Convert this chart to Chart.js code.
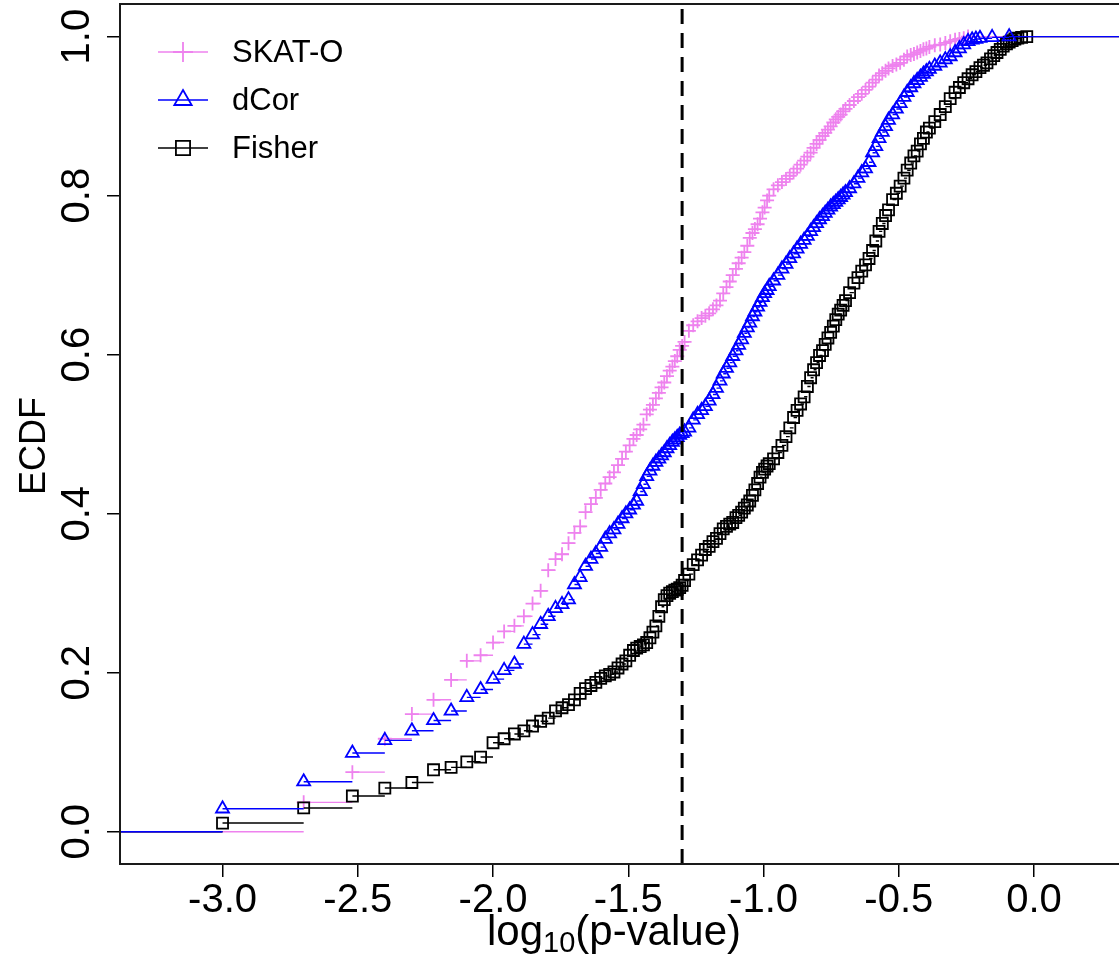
<!DOCTYPE html>
<html>
<head>
<meta charset="utf-8">
<script src="https://cdn.jsdelivr.net/npm/chart.js@4.4.0/dist/chart.umd.min.js"></script>
<style>
  html, body { margin: 0; padding: 0; background: #fff; }
  #wrap { width: 1119px; height: 962px; }
</style>
</head>
<body>
<div id="wrap"><canvas id="graficoEcdf" width="1119" height="962"></canvas></div>
<script>
// ECDF of log10(p-value) for three tests
const skatX = [-2.70, -2.52, -2.40, -2.30, -2.22, -2.155, -2.097, -2.046, -2.00, -1.959, -1.921, -1.886, -1.854, -1.824, -1.796,
  -1.769, -1.745, -1.721, -1.699, -1.678, -1.658, -1.638, -1.62, -1.602, -1.585, -1.569, -1.553, -1.538, -1.523, -1.509,
  -1.495, -1.481, -1.469, -1.456, -1.444, -1.432, -1.42, -1.409, -1.398, -1.387, -1.377, -1.367, -1.357, -1.347, -1.337,
  -1.328, -1.319, -1.31, -1.301, -1.292, -1.276, -1.26, -1.244, -1.229, -1.215, -1.201, -1.187, -1.174, -1.161, -1.149,
  -1.137, -1.125, -1.114, -1.102, -1.092, -1.081, -1.071, -1.06, -1.051, -1.041, -1.032, -1.022, -1.013, -1.004, -0.996,
  -0.987, -0.979, -0.963, -0.947, -0.932, -0.917, -0.903, -0.889, -0.876, -0.863, -0.85, -0.838, -0.826, -0.815, -0.804,
  -0.793, -0.782, -0.772, -0.762, -0.752, -0.742, -0.733, -0.724, -0.715, -0.706, -0.697, -0.682, -0.666, -0.651, -0.637,
  -0.623, -0.61, -0.597, -0.585, -0.573, -0.561, -0.549, -0.538, -0.523, -0.509, -0.495, -0.481, -0.469, -0.456, -0.444,
  -0.432, -0.42, -0.409, -0.398, -0.387, -0.367, -0.347, -0.328, -0.31, -0.292, -0.276, -0.26, -0.244];
const skatY = [0.037, 0.075, 0.117, 0.148, 0.166, 0.191, 0.215, 0.222, 0.238, 0.252, 0.259, 0.271, 0.287, 0.303, 0.329,
  0.343, 0.349, 0.363, 0.376, 0.384, 0.402, 0.412, 0.42, 0.43, 0.438, 0.446, 0.452, 0.461, 0.469, 0.478,
  0.486, 0.494, 0.499, 0.506, 0.512, 0.525, 0.531, 0.537, 0.545, 0.552, 0.559, 0.565, 0.573, 0.58, 0.585,
  0.592, 0.598, 0.606, 0.611, 0.616, 0.63, 0.637, 0.642, 0.646, 0.649, 0.652, 0.657, 0.662, 0.668, 0.677,
  0.685, 0.692, 0.7, 0.708, 0.715, 0.722, 0.729, 0.737, 0.747, 0.753, 0.758, 0.764, 0.771, 0.779, 0.785,
  0.794, 0.8, 0.808, 0.813, 0.817, 0.821, 0.825, 0.829, 0.834, 0.839, 0.844, 0.849, 0.854, 0.86, 0.865,
  0.87, 0.875, 0.879, 0.883, 0.887, 0.892, 0.896, 0.899, 0.902, 0.906, 0.909, 0.914, 0.919, 0.924, 0.928,
  0.933, 0.937, 0.942, 0.946, 0.951, 0.954, 0.957, 0.96, 0.963, 0.965, 0.967, 0.971, 0.975, 0.977, 0.978,
  0.98, 0.982, 0.984, 0.985, 0.987, 0.989, 0.99, 0.992, 0.994, 0.996, 0.997, 0.998, 1.0];

const dcorX = [-3.0, -2.70, -2.52, -2.40, -2.30, -2.22, -2.155, -2.097, -2.046, -2.00, -1.959, -1.921, -1.886, -1.854, -1.824,
  -1.796, -1.769, -1.745, -1.721, -1.699, -1.678, -1.658, -1.638, -1.62, -1.602, -1.585, -1.569, -1.553, -1.538, -1.523,
  -1.509, -1.495, -1.481, -1.469, -1.456, -1.444, -1.432, -1.42, -1.409, -1.398, -1.387, -1.377, -1.367, -1.357, -1.347,
  -1.337, -1.328, -1.319, -1.31, -1.301, -1.292, -1.276, -1.26, -1.244, -1.229, -1.215, -1.201, -1.187, -1.174, -1.161,
  -1.149, -1.137, -1.125, -1.114, -1.102, -1.092, -1.081, -1.071, -1.06, -1.051, -1.041, -1.032, -1.022, -1.013, -1.004,
  -0.996, -0.987, -0.979, -0.963, -0.947, -0.932, -0.917, -0.903, -0.889, -0.876, -0.863, -0.85, -0.838, -0.826, -0.815,
  -0.804, -0.793, -0.782, -0.772, -0.762, -0.752, -0.742, -0.733, -0.724, -0.715, -0.706, -0.697, -0.682, -0.666, -0.651,
  -0.637, -0.623, -0.61, -0.597, -0.585, -0.573, -0.561, -0.549, -0.538, -0.523, -0.509, -0.495, -0.481, -0.469, -0.456,
  -0.444, -0.432, -0.42, -0.409, -0.398, -0.387, -0.367, -0.347, -0.328, -0.31, -0.292, -0.276, -0.26, -0.244, -0.229,
  -0.215, -0.2, -0.155, -0.092];
const dcorY = [0.029, 0.063, 0.099, 0.115, 0.127, 0.14, 0.152, 0.169, 0.179, 0.192, 0.203, 0.211, 0.236, 0.248, 0.261,
  0.271, 0.281, 0.286, 0.292, 0.311, 0.32, 0.334, 0.343, 0.35, 0.358, 0.368, 0.375, 0.38, 0.387, 0.394,
  0.4, 0.405, 0.411, 0.416, 0.428, 0.437, 0.447, 0.454, 0.46, 0.465, 0.469, 0.473, 0.477, 0.482, 0.486,
  0.49, 0.493, 0.496, 0.499, 0.501, 0.503, 0.508, 0.518, 0.525, 0.53, 0.535, 0.542, 0.55, 0.558, 0.567,
  0.576, 0.583, 0.59, 0.598, 0.605, 0.612, 0.619, 0.627, 0.634, 0.64, 0.648, 0.654, 0.66, 0.666, 0.672,
  0.677, 0.681, 0.686, 0.693, 0.7, 0.708, 0.714, 0.721, 0.727, 0.733, 0.739, 0.744, 0.749, 0.755, 0.76,
  0.765, 0.77, 0.774, 0.778, 0.782, 0.786, 0.789, 0.792, 0.795, 0.798, 0.801, 0.804, 0.809, 0.815, 0.822,
  0.829, 0.834, 0.842, 0.854, 0.862, 0.872, 0.88, 0.887, 0.895, 0.902, 0.909, 0.916, 0.924, 0.93, 0.936,
  0.941, 0.945, 0.949, 0.953, 0.956, 0.959, 0.963, 0.967, 0.971, 0.975, 0.98, 0.985, 0.99, 0.994, 0.996,
  0.997, 0.998, 0.999, 1.0];

const fisherX = [-3.0, -2.70, -2.52, -2.40, -2.30, -2.22, -2.155, -2.097, -2.046, -2.00, -1.959, -1.921, -1.886, -1.854, -1.824,
  -1.796, -1.769, -1.745, -1.721, -1.699, -1.678, -1.658, -1.638, -1.62, -1.602, -1.585, -1.569, -1.553, -1.538, -1.523,
  -1.509, -1.495, -1.481, -1.469, -1.456, -1.444, -1.432, -1.42, -1.409, -1.398, -1.387, -1.377, -1.367, -1.357, -1.347,
  -1.337, -1.328, -1.319, -1.31, -1.301, -1.292, -1.276, -1.26, -1.244, -1.229, -1.215, -1.201, -1.187, -1.174, -1.161,
  -1.149, -1.137, -1.125, -1.114, -1.102, -1.092, -1.081, -1.071, -1.06, -1.051, -1.041, -1.032, -1.022, -1.013, -1.004,
  -0.996, -0.987, -0.979, -0.963, -0.947, -0.932, -0.917, -0.903, -0.889, -0.876, -0.863, -0.85, -0.838, -0.826, -0.815,
  -0.804, -0.793, -0.782, -0.772, -0.762, -0.752, -0.742, -0.733, -0.724, -0.715, -0.706, -0.697, -0.682, -0.666, -0.651,
  -0.637, -0.623, -0.61, -0.597, -0.585, -0.573, -0.561, -0.549, -0.538, -0.523, -0.509, -0.495, -0.481, -0.469, -0.456,
  -0.444, -0.432, -0.42, -0.409, -0.398, -0.387, -0.367, -0.347, -0.328, -0.31, -0.292, -0.276, -0.26, -0.244, -0.229,
  -0.215, -0.2, -0.187, -0.174, -0.161, -0.149, -0.137, -0.125, -0.114, -0.102, -0.092, -0.081, -0.071, -0.06, -0.046,
  -0.027];
const fisherY = [0.011, 0.03, 0.045, 0.055, 0.062, 0.078, 0.081, 0.088, 0.094, 0.112, 0.117, 0.123, 0.127, 0.133, 0.139,
  0.143, 0.152, 0.156, 0.16, 0.166, 0.174, 0.18, 0.184, 0.188, 0.193, 0.196, 0.198, 0.201, 0.206, 0.211,
  0.215, 0.222, 0.228, 0.231, 0.233, 0.235, 0.238, 0.244, 0.251, 0.259, 0.271, 0.283, 0.292, 0.297, 0.3,
  0.302, 0.304, 0.305, 0.307, 0.31, 0.316, 0.324, 0.336, 0.342, 0.348, 0.355, 0.359, 0.365, 0.369, 0.375,
  0.381, 0.384, 0.387, 0.389, 0.395, 0.398, 0.402, 0.407, 0.411, 0.416, 0.423, 0.43, 0.438, 0.446, 0.452,
  0.456, 0.46, 0.463, 0.469, 0.477, 0.486, 0.497, 0.508, 0.521, 0.53, 0.538, 0.547, 0.56, 0.571, 0.581,
  0.59, 0.599, 0.605, 0.613, 0.621, 0.628, 0.636, 0.644, 0.651, 0.656, 0.662, 0.668, 0.678, 0.69, 0.697,
  0.705, 0.713, 0.721, 0.731, 0.743, 0.755, 0.765, 0.775, 0.782, 0.795, 0.803, 0.812, 0.822, 0.832, 0.841,
  0.85, 0.856, 0.865, 0.872, 0.88, 0.885, 0.893, 0.902, 0.912, 0.922, 0.93, 0.936, 0.942, 0.947, 0.952,
  0.956, 0.961, 0.964, 0.967, 0.972, 0.976, 0.98, 0.984, 0.988, 0.991, 0.993, 0.995, 0.997, 0.998, 0.999,
  1.0];

const seriesNames = ['SKAT-O', 'dCor', 'Fisher'];
const xTicks = [-3.0, -2.5, -2.0, -1.5, -1.0, -0.5, 0.0];
const yTicks = [0.0, 0.2, 0.4, 0.6, 0.8, 1.0];
const cutoff = Math.log10(0.05);

const X_MIN = -3.379, X_MAX = 0.314;
const Y_MIN = -0.0405, Y_MAX = 1.041;
const FONT = "'Liberation Sans', Arial, sans-serif";
const cores = { skat: '#EE82EE', dcor: '#0000FF', fisher: '#000000' };

// horizontal pieces of the step function, one gap after each piece
function degraus(xs, ys) {
  const pts = [{ x: X_MIN, y: 0 }, { x: xs[0], y: 0 }, { x: xs[0], y: null }];
  for (let i = 0; i < xs.length; i++) {
    const fim = i < xs.length - 1 ? xs[i + 1] : X_MAX;
    pts.push({ x: xs[i], y: ys[i] }, { x: fim, y: ys[i] }, { x: fim, y: null });
  }
  return pts;
}
const pontos = (xs, ys) => xs.map((x, i) => ({ x: x, y: ys[i] }));

function linha(xs, ys, cor, ordem) {
  return { data: degraus(xs, ys), showLine: true, borderColor: cor, borderWidth: 1.4,
    pointRadius: 0, spanGaps: false, order: ordem };
}
function marcas(xs, ys, cor, estilo, raio, ordem) {
  return { data: pontos(xs, ys), showLine: false, pointStyle: estilo, pointRadius: raio,
    borderColor: cor, backgroundColor: 'rgba(0,0,0,0)', pointBorderWidth: 1.8, order: ordem };
}

// box, rotated y labels, titles, cutoff line and legend (R style)
const extras = {
  id: 'extras',
  afterDatasetsDraw(chart) {
    const { ctx, chartArea: a, scales: { x, y } } = chart;
    ctx.save();
    // dashed cutoff line
    const xc = x.getPixelForValue(cutoff);
    ctx.strokeStyle = '#000';
    ctx.lineWidth = 3;
    ctx.setLineDash([15, 9]);
    ctx.beginPath();
    ctx.moveTo(xc, a.bottom);
    ctx.lineTo(xc, a.top);
    ctx.stroke();
    ctx.setLineDash([]);

    // box (right side is outside the picture)
    ctx.lineWidth = 2;
    ctx.strokeStyle = '#1a1a1a';
    ctx.beginPath();
    ctx.moveTo(a.right + 2, a.top);
    ctx.lineTo(a.left, a.top);
    ctx.lineTo(a.left, a.bottom);
    ctx.lineTo(a.right + 2, a.bottom);
    ctx.stroke();

    // y tick labels, read bottom to top
    ctx.fillStyle = '#000';
    ctx.font = '40px ' + FONT;
    ctx.textAlign = 'center';
    ctx.textBaseline = 'alphabetic';
    yTicks.forEach(v => {
      ctx.save();
      ctx.translate(a.left - 31, y.getPixelForValue(v));
      ctx.rotate(-Math.PI / 2);
      ctx.fillText(v.toFixed(1), 0, 0);
      ctx.restore();
    });

    // y title
    ctx.save();
    ctx.font = '36px ' + FONT;
    ctx.translate(45, (a.top + a.bottom) / 2 + 12);
    ctx.rotate(-Math.PI / 2);
    ctx.fillText('ECDF', 0, 0);
    ctx.restore();

    // x title with subscript
    const fSub = '29px ' + FONT;
    const f = '42px ' + FONT;
    ctx.font = f;
    const w1 = ctx.measureText('log').width;
    const w3 = ctx.measureText('(p-value)').width;
    ctx.font = fSub;
    const w2 = ctx.measureText('10').width;
    const xt = 614 - (w1 + w2 + w3) / 2;
    const base = 945;
    ctx.textAlign = 'left';
    ctx.font = f;
    ctx.fillText('log', xt, base);
    ctx.font = fSub;
    ctx.fillText('10', xt + w1, base + 7);
    ctx.font = f;
    ctx.fillText('(p-value)', xt + w1 + w2, base);

    // legend
    const leg = [
      { nome: seriesNames[0], cor: cores.skat, estilo: 'cross', r: 10 },
      { nome: seriesNames[1], cor: cores.dcor, estilo: 'triangle', r: 10 },
      { nome: seriesNames[2], cor: cores.fisher, estilo: 'rect', r: 10 }
    ];
    ctx.font = '31px ' + FONT;
    ctx.textBaseline = 'middle';
    leg.forEach((it, i) => {
      const ly = 52 + i * 48;
      ctx.strokeStyle = it.cor;
      ctx.lineWidth = 1.4;
      ctx.beginPath();
      ctx.moveTo(158, ly);
      ctx.lineTo(208, ly);
      ctx.stroke();
      ctx.lineWidth = 1.8;
      ctx.fillStyle = 'rgba(0,0,0,0)';
      Chart.helpers.drawPoint(ctx, { pointStyle: it.estilo, radius: it.r, rotation: 0, borderWidth: 1.8 }, 183, ly);
      ctx.fillStyle = '#000';
      ctx.fillText(it.nome, 232, ly + 1);
    });
    ctx.restore();
  }
};

const ctx = document.getElementById('graficoEcdf').getContext('2d');

const config = {
  type: 'scatter',
  data: {
    datasets: [
      linha(skatX, skatY, cores.skat, 3),
      marcas(skatX, skatY, cores.skat, 'cross', 7, 3),
      linha(fisherX, fisherY, cores.fisher, 2),
      marcas(fisherX, fisherY, cores.fisher, 'rect', 7.8, 2),
      linha(dcorX, dcorY, cores.dcor, 1),
      marcas(dcorX, dcorY, cores.dcor, 'triangle', 7.5, 1)
    ]
  },
  options: {
    responsive: false,
    animation: false,
    devicePixelRatio: 1,
    layout: { autoPadding: false, padding: { top: 4, right: 0, left: 0, bottom: 0 } },
    plugins: { legend: { display: false }, tooltip: { enabled: false } },
    scales: {
      x: {
        type: 'linear',
        min: X_MIN,
        max: X_MAX,
        afterBuildTicks: s => { s.ticks = xTicks.map(v => ({ value: v })); },
        afterFit: s => { s.height = 98; },
        ticks: {
          color: '#000',
          font: { family: FONT, size: 40 },
          padding: 0,
          maxRotation: 0,
          autoSkip: false,
          callback: v => v.toFixed(1)
        },
        grid: { drawOnChartArea: false, drawTicks: true, tickLength: 13, color: '#000', lineWidth: 1.5 },
        border: { display: false }
      },
      y: {
        type: 'linear',
        min: Y_MIN,
        max: Y_MAX,
        afterBuildTicks: s => { s.ticks = yTicks.map(v => ({ value: v })); },
        afterFit: s => { s.width = 120; },
        ticks: { display: false },
        grid: { drawOnChartArea: false, drawTicks: true, tickLength: 13, color: '#000', lineWidth: 1.5 },
        border: { display: false }
      }
    }
  },
  plugins: [extras]
};

const grafico = new Chart(ctx, config);
</script>
</body>
</html>
